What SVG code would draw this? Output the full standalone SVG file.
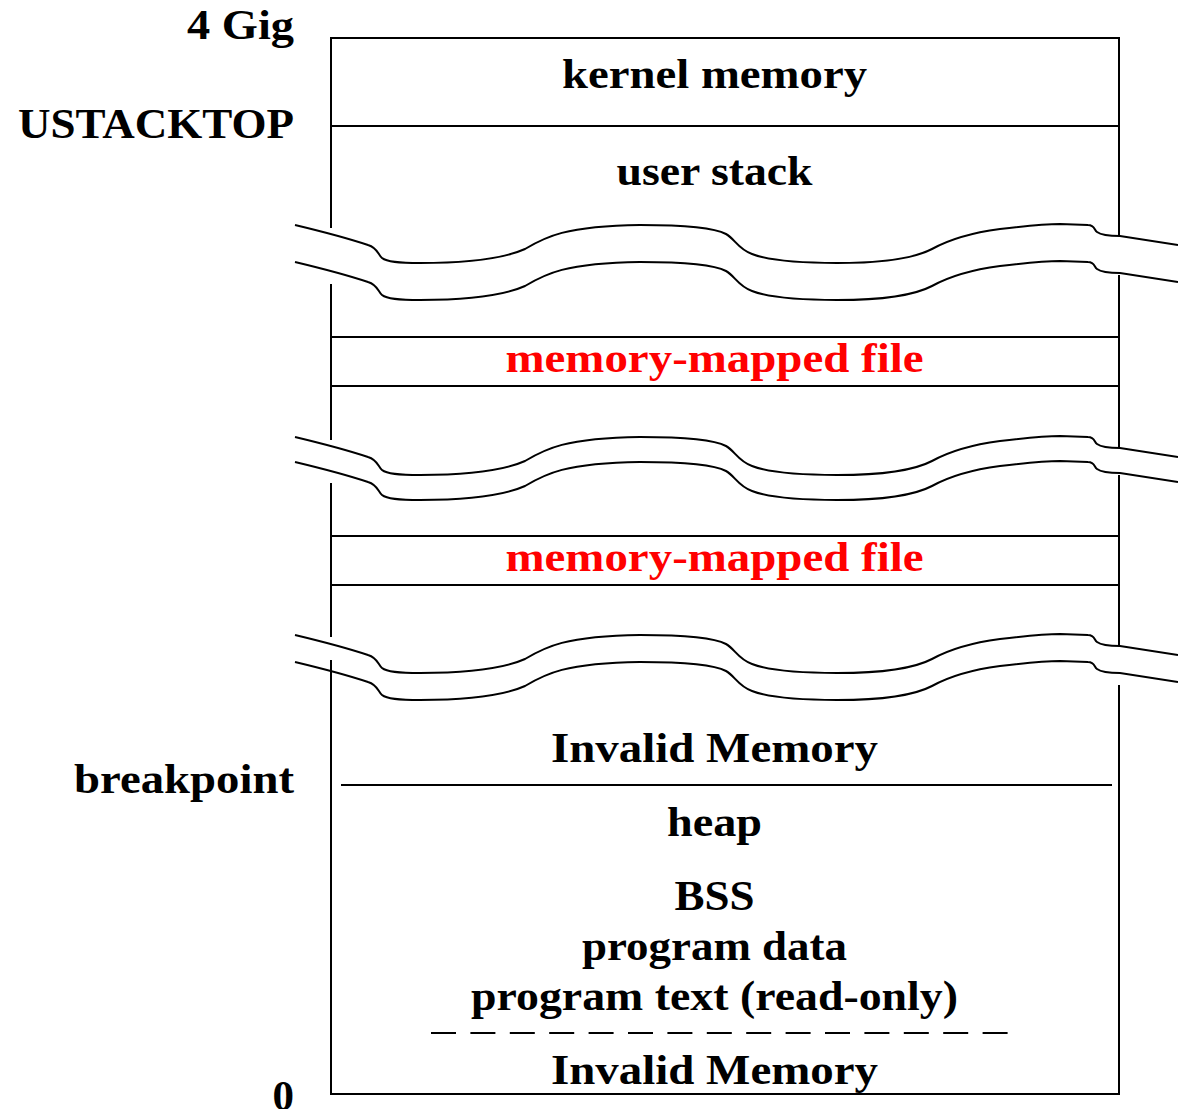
<svg xmlns="http://www.w3.org/2000/svg" xmlns:xlink="http://www.w3.org/1999/xlink" width="1178" height="1109" viewBox="0 0 1178 1109">
  <style>
    .ln { stroke: #000; stroke-width: 2; fill: none; }
    .lbl { font-family: "Liberation Serif", "Times New Roman", serif; font-weight: bold; font-size: 43px; fill: #000; }
    .side { text-anchor: end; }
    .mid { text-anchor: middle; }
    .mapped { fill: #ff0000; }
  </style>
  <defs>
    <!-- one torn edge of a break in the address range; origin at its left end -->
    <path id="tear" class="ln" d="M295,0 C320,6 350,14 368,20 C378,23 378,30 382,33 C387,37 398,38 420,38 C470,38 505,33 525,24 C545,12 565,1 640,0 C690,0 715,3 726,9 C735,14 738,24 752,29 C770,36 800,38 837,38 C880,38 915,33 932,24 C950,14 970,8 1000,4 C1025,1 1045,-1 1060,-1 L1088,0 C1095,0 1094,5 1097,7 C1101,10 1110,11 1120,11 L1178,20"/>
  </defs>
  <rect width="1178" height="1109" fill="#fff"/>

  <!-- outline of the address space, broken where ranges are elided -->
  <g id="frame" class="ln">
    <line x1="331" y1="38" x2="1119" y2="38"/>
    <line x1="331" y1="1094" x2="1119" y2="1094"/>
    <path d="M331,37 V228 M331,284 V440 M331,483 V637 M331,660 V1095"/>
    <path d="M1119,37 V235 M1119,275 V447 M1119,475 V645 M1119,685 V1095"/>
  </g>

  <!-- address labels on the left -->
  <g id="addr-4gig"><text class="lbl side" x="294" y="39" textLength="107" lengthAdjust="spacingAndGlyphs">4 Gig</text></g>
  <g id="addr-ustacktop"><text class="lbl side" x="294" y="138" textLength="276" lengthAdjust="spacingAndGlyphs">USTACKTOP</text></g>
  <g id="addr-breakpoint"><text class="lbl side" x="294" y="793" textLength="220" lengthAdjust="spacingAndGlyphs">breakpoint</text></g>
  <g id="addr-zero"><text class="lbl side" x="294" y="1110">0</text></g>

  <!-- regions -->
  <g id="kernel-memory">
    <text class="lbl mid" x="714.5" y="88" textLength="305" lengthAdjust="spacingAndGlyphs">kernel memory</text>
    <line class="ln" x1="331" y1="126" x2="1119" y2="126"/>
  </g>
  <g id="user-stack">
    <text class="lbl mid" x="714.5" y="185" textLength="196" lengthAdjust="spacingAndGlyphs">user stack</text>
  </g>

  <g id="break-1">
    <use xlink:href="#tear" href="#tear" transform="translate(0,225)"/>
    <use xlink:href="#tear" href="#tear" transform="translate(0,262)"/>
  </g>

  <g id="mapped-file-1">
    <line class="ln" x1="331" y1="337" x2="1119" y2="337"/>
    <line class="ln" x1="331" y1="386" x2="1119" y2="386"/>
    <text class="lbl mid mapped" x="714.5" y="372" textLength="418" lengthAdjust="spacingAndGlyphs">memory-mapped file</text>
  </g>

  <g id="break-2">
    <use xlink:href="#tear" href="#tear" transform="translate(0,437)"/>
    <use xlink:href="#tear" href="#tear" transform="translate(0,462)"/>
  </g>

  <g id="mapped-file-2">
    <line class="ln" x1="331" y1="536" x2="1119" y2="536"/>
    <line class="ln" x1="331" y1="585" x2="1119" y2="585"/>
    <text class="lbl mid mapped" x="714.5" y="571" textLength="418" lengthAdjust="spacingAndGlyphs">memory-mapped file</text>
  </g>

  <g id="break-3">
    <use xlink:href="#tear" href="#tear" transform="translate(0,635)"/>
    <use xlink:href="#tear" href="#tear" transform="translate(0,662)"/>
  </g>

  <g id="invalid-upper">
    <text class="lbl mid" x="714.5" y="762" textLength="327" lengthAdjust="spacingAndGlyphs">Invalid Memory</text>
    <line class="ln" x1="341" y1="785" x2="1112" y2="785"/>
  </g>
  <g id="heap">
    <text class="lbl mid" x="714.5" y="836" textLength="95" lengthAdjust="spacingAndGlyphs">heap</text>
  </g>
  <g id="program-image">
    <text class="lbl mid" x="714.5" y="910" textLength="80" lengthAdjust="spacingAndGlyphs">BSS</text>
    <text class="lbl mid" x="714.5" y="960" textLength="265" lengthAdjust="spacingAndGlyphs">program data</text>
    <text class="lbl mid" x="714.5" y="1010" textLength="487" lengthAdjust="spacingAndGlyphs">program text (read-only)</text>
    <line class="ln" x1="431" y1="1033" x2="1008" y2="1033" stroke-dasharray="25 14.4"/>
  </g>
  <g id="invalid-lower">
    <text class="lbl mid" x="714.5" y="1084" textLength="327" lengthAdjust="spacingAndGlyphs">Invalid Memory</text>
  </g>
</svg>
